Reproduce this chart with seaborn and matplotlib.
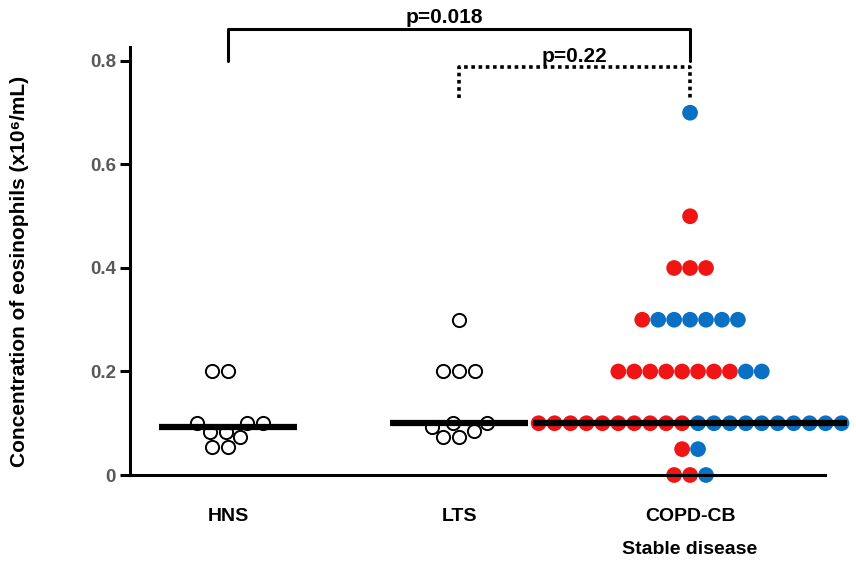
import numpy as np
import pandas as pd
import seaborn as sns
import matplotlib.pyplot as plt
from matplotlib.transforms import blended_transform_factory

sns.set_style('ticks', {'axes.edgecolor': 'black', 'text.color': 'black',
                        'axes.labelcolor': 'black', 'xtick.color': 'black',
                        'ytick.color': 'black'})
plt.rcParams['font.family'] = ['Liberation Sans', 'DejaVu Sans']

groups = ['HNS', 'LTS', 'COPD-CB']
hns = [0.2, 0.2, 0.1, 0.1, 0.1, 0.084, 0.084, 0.073, 0.055, 0.055]
lts = [0.3, 0.2, 0.2, 0.2, 0.1, 0.1, 0.093, 0.085, 0.073, 0.073]
copd_red = [0.5, 0.4, 0.4, 0.4, 0.3,
            0.2, 0.2, 0.2, 0.2, 0.2, 0.2, 0.2, 0.2,
            0.1, 0.1, 0.1, 0.1, 0.1, 0.1, 0.1, 0.1, 0.1, 0.1,
            0.05, 0.0, 0.0]
copd_blue = [0.7, 0.3, 0.3, 0.3, 0.3, 0.3, 0.3,
             0.2, 0.2,
             0.1, 0.1, 0.1, 0.1, 0.1, 0.1, 0.1, 0.1, 0.1, 0.1,
             0.05, 0.0]
yticks = [0, 0.2, 0.4, 0.6, 0.8]
ytick_labels = ['0', '0.2', '0.4', '0.6', '0.8']

red = '#F01414'
blue = '#0A70C4'

fig = plt.figure(figsize=(8.56, 5.68), dpi=100)
ax = fig.add_axes([130 / 856, 93 / 568, 695 / 856, 428 / 568])

# open circles for the two control groups
ctrl = pd.DataFrame({'group': ['HNS'] * len(hns) + ['LTS'] * len(lts),
                     'value': hns + lts})
sns.swarmplot(data=ctrl, x='group', y='value', order=groups, color='white',
              edgecolor='black', linewidth=1.4, size=9.5, ax=ax, zorder=2)

# COPD-CB: each value level laid out as one row, red first then blue
step = 0.069
rows = []
for v in sorted(set(copd_red + copd_blue), reverse=True):
    cols = ['red'] * copd_red.count(v) + ['blue'] * copd_blue.count(v)
    n = len(cols)
    for i, c in enumerate(cols):
        rows.append((2 + (i - (n - 1) / 2) * step, v, c))
copd = pd.DataFrame(rows, columns=['x', 'value', 'colour'])
sns.scatterplot(data=copd, x='x', y='value', hue='colour',
                palette={'red': red, 'blue': blue}, s=128, linewidth=0,
                legend=False, ax=ax, clip_on=False, zorder=2)

# median bars
half = [0.3, 0.3, 0.68]
for i, vals in enumerate([hns, lts, copd_red + copd_blue]):
    m = np.median(vals)
    ax.plot([i - half[i], i + half[i]], [m, m], color='black', lw=4.5,
            solid_capstyle='butt', zorder=5, clip_on=False)

ax.set_xlim(-0.424, 2.584)
ax.set_ylim(0, 0.827)
sns.despine(ax=ax)
for s in ['left', 'bottom']:
    ax.spines[s].set_linewidth(2.2)

ax.set_yticks(yticks)
ax.set_yticklabels(ytick_labels, fontsize=13.5, fontweight='bold', color='#595959')
ax.tick_params(axis='y', length=7, width=2.2, pad=3)
ax.set_xticks(range(len(groups)))
ax.set_xticklabels(groups, fontsize=14, fontweight='bold')
ax.tick_params(axis='x', length=0, pad=24)
ax.set_xlabel('')
ax.set_ylabel('Concentration of eosinophils (x10\u2076/mL)', fontsize=15,
              fontweight='bold')
ax.yaxis.set_label_coords(-0.145, 0.475)

trans = blended_transform_factory(ax.transData, ax.transAxes)
ax.text(2, -0.175, 'Stable disease', transform=trans, ha='center',
        va='center', fontsize=14, fontweight='bold')

# significance brackets
ax.plot([0, 0, 2, 2], [0.8, 0.862, 0.862, 0.8], color='black', lw=2.2,
        clip_on=False)
ax.text(0.935, 0.873, 'p=0.018', ha='center', va='baseline', fontsize=15,
        fontweight='bold')
ax.plot([1, 1, 2, 2], [0.728, 0.788, 0.788, 0.728], color='black', lw=2.6,
        dashes=(1, 1), dash_capstyle='butt', clip_on=False)
ax.text(1.5, 0.798, 'p=0.22', ha='center', va='baseline', fontsize=15,
        fontweight='bold')

fig.savefig('out.png', dpi=100)
